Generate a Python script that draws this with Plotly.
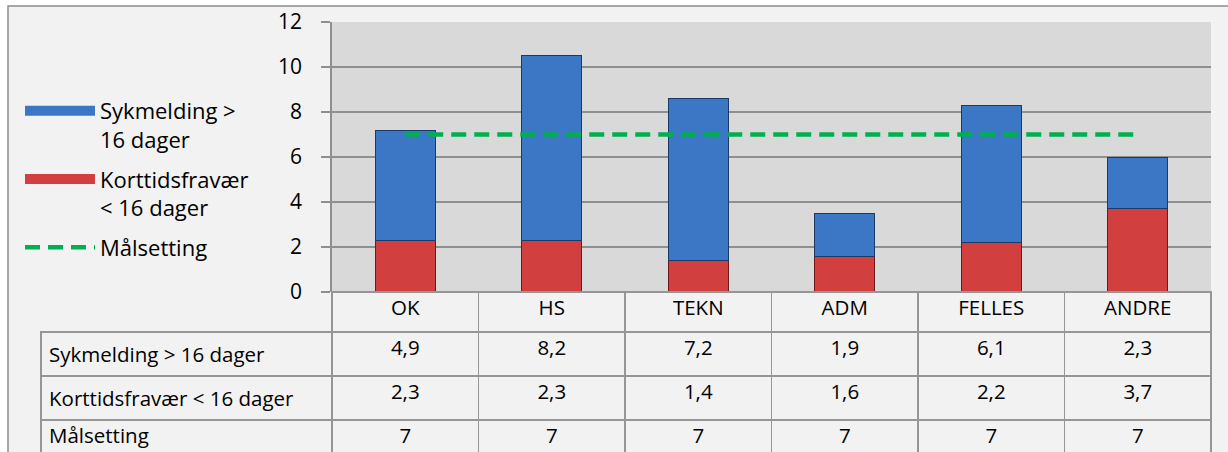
"""
Sykefravaer per omraade: stacked bars (short and long sick leave) with a
target line, and the Excel-style data table under the plot.
"""
import plotly.graph_objs as go

CATEGORIES = ["OK", "HS", "TEKN", "ADM", "FELLES", "ANDRE"]
SYKMELDING = [4.9, 8.2, 7.2, 1.9, 6.1, 2.3]
KORTTID = [2.3, 2.3, 1.4, 1.6, 2.2, 3.7]
MAAL = [7, 7, 7, 7, 7, 7]

SERIES_NAMES = ["Sykmelding > 16 dager", "Korttidsfravær < 16 dager", "Målsetting"]
LEGEND_NAMES = ["Sykmelding ><br>16 dager", "Korttidsfravær<br>< 16 dager", "Målsetting"]
Y_TICKS = [0, 2, 4, 6, 8, 10, 12]

BLUE = "#3B77C4"
RED = "#D23F3F"
GREEN = "#00B050"
FONT = "Open Sans"
TEXT_SIZE = 22
CELL_SIZE = 20.5

W, H = 1228, 452


def px_x(p: float) -> float:
    """Pixel column -> paper fraction."""
    return p / W


def px_y(p: float) -> float:
    """Pixel row (from the top) -> paper fraction."""
    return 1 - p / H


def fmt(v: float) -> str:
    """Norwegian decimal comma, no trailing .0"""
    return f"{v:g}".replace(".", ",")


fig = go.Figure()

# stacked bars, short leave at the bottom
fig.add_trace(go.Bar(
    x=CATEGORIES, y=KORTTID, name=SERIES_NAMES[1], showlegend=False,
    marker=dict(color=RED, line=dict(color="#6E1A1A", width=1)),
))
fig.add_trace(go.Bar(
    x=CATEGORIES, y=SYKMELDING, name=SERIES_NAMES[0], showlegend=False,
    marker=dict(color=BLUE, line=dict(color="#1C3A66", width=1)),
))
fig.add_trace(go.Scatter(
    x=CATEGORIES, y=MAAL, name=SERIES_NAMES[2], mode="lines", showlegend=False,
    line=dict(color=GREEN, width=4.5, dash="15px,8px"),
))

# legend proxies (wide rectangles like the Excel legend)
fig.add_trace(go.Scatter(x=[None], y=[None], mode="lines", name=LEGEND_NAMES[0],
                         legendgroup="a", line=dict(color=BLUE, width=16)))
fig.add_trace(go.Scatter(x=[None], y=[None], mode="lines", name=LEGEND_NAMES[1],
                         legendgroup="b", line=dict(color=RED, width=16)))
fig.add_trace(go.Scatter(x=[None], y=[None], mode="lines", name=LEGEND_NAMES[2],
                         legendgroup="c", line=dict(color=GREEN, width=4.5, dash="15px,8px")))

# data table under the plot
n = len(CATEGORIES)
columns = [SERIES_NAMES] + [
    [fmt(SYKMELDING[i]), fmt(KORTTID[i]), fmt(MAAL[i])] for i in range(n)
]
line_col = "#969696"
fig.add_trace(go.Table(
    domain=dict(x=[px_x(41), px_x(1211)], y=[0, px_y(292)]),
    columnwidth=[291] + [146.5] * n,
    header=dict(
        values=[""] + CATEGORIES,
        fill=dict(color=["rgba(0,0,0,0)"] + ["#F2F2F2"] * n),
        line=dict(color=["rgba(0,0,0,0)"] + [line_col] * n, width=1.5),
        align="center", height=40,
        font=dict(family=FONT, size=CELL_SIZE, color="#000000"),
    ),
    cells=dict(
        values=columns,
        fill=dict(color="#F2F2F2"),
        line=dict(color=line_col, width=1.5),
        align=["left"] + ["center"] * n, height=40,
        font=dict(family=FONT, size=CELL_SIZE, color="#000000"),
    ),
))

fig.update_layout(
    width=W, height=H,
    margin=dict(l=0, r=0, t=0, b=0, autoexpand=False),
    paper_bgcolor="#FFFFFF",
    plot_bgcolor="rgba(0,0,0,0)",
    barmode="stack",
    bargap=0.59,
    font=dict(family=FONT, size=TEXT_SIZE, color="#000000"),
    showlegend=True,
    legend=dict(
        x=px_x(20), y=px_y(90), xanchor="left", yanchor="top",
        bgcolor="rgba(0,0,0,0)", itemwidth=70, valign="top",
        traceorder="grouped", tracegroupgap=8,
        font=dict(family=FONT, size=TEXT_SIZE),
        itemclick=False,
    ),
    xaxis=dict(
        domain=[px_x(332), px_x(1211)],
        showticklabels=False, showgrid=False, zeroline=False, ticks="",
        fixedrange=True, automargin=False,
    ),
    yaxis=dict(
        domain=[px_y(292), px_y(22)],
        range=[0, 12], tickvals=Y_TICKS,
        showgrid=True, gridcolor="#8F8F8F", gridwidth=1.5,
        zeroline=False, showline=True, linecolor="#8F8F8F", linewidth=1.5,
        ticks="outside", ticklen=9, tickcolor="#8F8F8F", tickwidth=1.5,
        ticklabelstandoff=15, tickfont=dict(family=FONT, size=21),
        fixedrange=True, automargin=False,
    ),
    shapes=[
        # chart area
        dict(type="rect", xref="paper", yref="paper", layer="below",
             x0=px_x(8), x1=1.05, y0=-0.05, y1=px_y(6),
             fillcolor="#F2F2F2", line=dict(color="#8C8C8C", width=1.5)),
        # plot area
        dict(type="rect", xref="x domain", yref="y domain", layer="below",
             x0=0, x1=1, y0=0, y1=1,
             fillcolor="#D9D9D9", line=dict(width=0)),
    ],
)

fig.write_html(
    "out.html",
    config={"displayModeBar": False},
    post_script="document.body.style.margin='0';",
)
